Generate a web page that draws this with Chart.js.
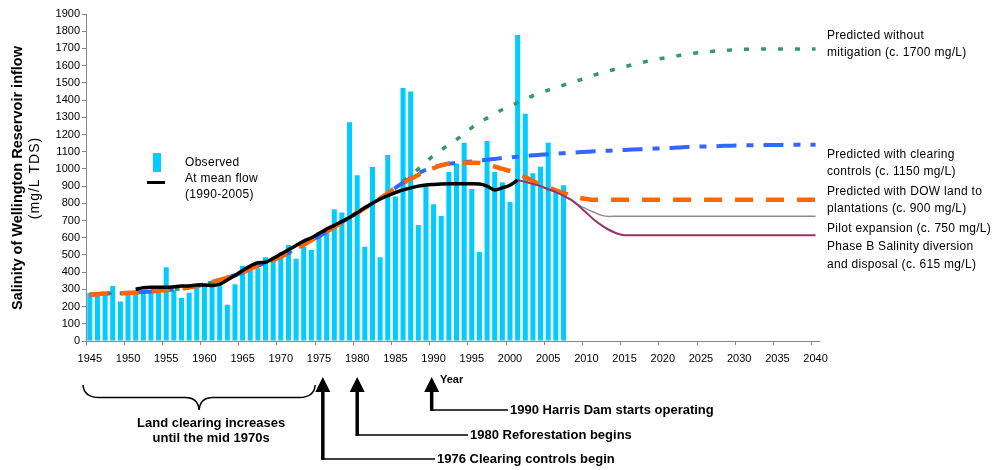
<!DOCTYPE html>
<html>
<head>
<meta charset="utf-8">
<script src="https://cdn.jsdelivr.net/npm/chart.js@4.4.1/dist/chart.umd.min.js"></script>
<style>
  html, body { margin: 0; padding: 0; background: #ffffff; }
  #wrap { width: 997px; height: 470px; }
</style>
</head>
<body>
<div id="wrap"><canvas id="salinity" width="997" height="470"></canvas></div>
<script>
// ---- categories -------------------------------------------------------
const FIRST_YEAR = 1945;
const LAST_YEAR = 2040;
const years = [];
for (let y = FIRST_YEAR; y <= LAST_YEAR; y++) years.push(String(y));

const xTickYears = [1945, 1950, 1955, 1960, 1965, 1970, 1975, 1980, 1985, 1990,
                    1995, 2000, 2005, 2010, 2015, 2020, 2025, 2030, 2035, 2040];

// ---- observed annual salinity (mg/L TDS), 1945-2007 ---------------------
const observedStart = 1945;
const observed = [
  280, 278, 282, 320, 230, 270, 275, 282, 295, 282,
  428, 295, 250, 280, 318, 325, 338, 335, 210, 330,
  436, 415, 422, 486, 470, 490, 558, 478, 548, 529,
  633, 626, 765, 746, 1271, 963, 548, 1011, 486, 1081,
  840, 1470, 1449, 674, 897, 794, 726, 982, 1032, 1152,
  883, 517, 1162, 982, 922, 808, 1778, 1321, 974, 1013,
  1152, 877, 905
];

// ---- salinity at mean flow (1990-2005), 1951-2001 ------------------------
const meanFlowStart = 1951;
const meanFlow = [
  300, 310, 312, 312, 312, 315, 320, 320, 325, 325,
  322, 330, 355, 380, 410, 435, 455, 458, 480, 505,
  530, 555, 580, 600, 625, 650, 672, 695, 718, 745,
  775, 800, 825, 845, 862, 878, 890, 900, 907, 910,
  912, 913, 913, 913, 913, 912, 900, 878, 890, 905,
  935
];

// ---- modelled trend shared by the three predictions, 1945-1984 -----------
const predictedStart = 1945;
const predictedHistory = [
  270, 272, 275, 278, 278, 280, 282, 285, 288, 292,
  296, 300, 305, 312, 320, 330, 342, 355, 368, 382,
  398, 420, 438, 455, 470, 490, 512, 537, 560, 585,
  608, 635, 662, 690, 718, 745, 772, 800, 828, 858
];

// ---- predictions, 1985-2040 ----------------------------------------------
const withoutMitigation = [
  895, 930, 960, 1000, 1040, 1078, 1110, 1140, 1170, 1205,
  1240, 1270, 1295, 1320, 1345, 1365, 1385, 1405, 1425, 1440,
  1458, 1472, 1487, 1502, 1515, 1530, 1545, 1558, 1570, 1582,
  1594, 1605, 1615, 1626, 1635, 1643, 1650, 1658, 1666, 1672,
  1677, 1681, 1685, 1688, 1691, 1694, 1695, 1696, 1697, 1697,
  1697, 1697, 1697, 1697, 1697, 1697
];
const clearingControls = [
  890, 920, 948, 975, 995, 1010, 1022, 1030, 1035, 1040,
  1043, 1048, 1053, 1058, 1063, 1067, 1071, 1075, 1079, 1082,
  1085, 1088, 1091, 1094, 1097, 1100, 1102, 1104, 1106, 1108,
  1110, 1112, 1114, 1116, 1118, 1120, 1122, 1125, 1127, 1129,
  1130, 1131, 1132, 1134, 1135, 1136, 1137, 1138, 1138, 1139,
  1139, 1140, 1140, 1140, 1140, 1140
];
const dowPlantations = [
  888, 915, 942, 965, 988, 1005, 1020, 1032, 1036, 1036,
  1036, 1035, 1025, 1013, 1000, 988, 972, 952, 930, 910,
  893, 876, 860, 845, 833, 825, 820, 820, 820, 820,
  820, 820, 820, 820, 820, 820, 820, 820, 820, 820,
  820, 820, 820, 820, 820, 820, 820, 820, 820, 820,
  820, 820, 820, 820, 820, 820
];
const futureStart = 1985;

// ---- salinity management options, 2001-2040 ------------------------------
const optionsStart = 2001;
const pilotExpansion = [
  935, 925, 912, 900, 882, 865, 843, 822, 790, 768,
  748, 730, 724, 725, 725, 725, 725, 725, 725, 725,
  725, 725, 725, 725, 725, 725, 725, 725, 725, 725,
  725, 725, 725, 725, 725, 725, 725, 725, 725, 725
];
const phaseB = [
  935, 925, 912, 900, 882, 865, 843, 820, 785, 745,
  705, 672, 645, 625, 615, 615, 615, 615, 615, 615,
  615, 615, 615, 615, 615, 615, 615, 615, 615, 615,
  615, 615, 615, 615, 615, 615, 615, 615, 615, 615
];

// ---- text ---------------------------------------------------------------
const yTitle = ['Salinity of Wellington Reservoir inflow', '(mg/L TDS)'];
const legendLabels = ['Observed', 'At mean flow', '(1990-2005)'];
const seriesNotes = [
  ['Predicted without', 'mitigation (c. 1700 mg/L)'],
  ['Predicted with clearing', 'controls (c. 1150 mg/L)'],
  ['Predicted with DOW land to', 'plantations (c. 900 mg/L)'],
  ['Pilot expansion (c. 750 mg/L)'],
  ['Phase B Salinity diversion', 'and disposal (c. 615 mg/L)']
];
const xTitle = 'Year';
const clearingNote = ['Land clearing increases', 'until the mid 1970s'];
const milestones = [
  { year: 1990, text: '1990 Harris Dam starts operating' },
  { year: 1980, text: '1980 Reforestation begins' },
  { year: 1976, text: '1976 Clearing controls begin' }
];

// ---- helpers ------------------------------------------------------------
function onAxis(startYear, values) {
  const out = new Array(years.length).fill(null);
  values.forEach((v, i) => { out[startYear - FIRST_YEAR + i] = v; });
  return out;
}

const FONT = '"Liberation Sans", Arial, Helvetica, sans-serif';
const BAR_COLOR = '#00CCFF';
const AXIS_COLOR = '#868686';

// Layout of the free-standing texts and markers
const noteRows = [[36, 53], [155, 172], [192, 209], [229], [247, 265]];
const noteLeft = 827;
const milestoneLayout = {
  1990: { shift: 0.25, lineY: 410, textX: 510 },
  1980: { shift: 0.5, lineY: 435, textX: 470 },
  1976: { shift: 0.0, lineY: 459, textX: 437 }
};

const annotate = {
  id: 'annotate',
  afterDraw(chart) {
    const { ctx, chartArea: area } = chart;
    const catW = (area.right - area.left) / years.length;
    const edgeX = yr => area.left + (yr - FIRST_YEAR) * catW;

    ctx.save();
    ctx.fillStyle = '#000';
    ctx.strokeStyle = '#000';
    ctx.textBaseline = 'middle';

    // vertical axis title
    ctx.save();
    ctx.translate(18, 178);
    ctx.rotate(-Math.PI / 2);
    ctx.textAlign = 'center';
    ctx.font = `bold 14.5px ${FONT}`;
    ctx.fillText(yTitle[0], 0, 0);
    ctx.font = `14px ${FONT}`;
    ctx.letterSpacing = '1px';
    ctx.fillText(yTitle[1], 0, 17);
    ctx.restore();

    // legend
    ctx.fillStyle = BAR_COLOR;
    ctx.fillRect(153, 153, 8, 19);
    ctx.beginPath();
    ctx.lineWidth = 3;
    ctx.moveTo(147, 182.5);
    ctx.lineTo(165, 182.5);
    ctx.stroke();
    ctx.fillStyle = '#000';
    ctx.textAlign = 'left';
    ctx.save();
    ctx.font = `12px ${FONT}`;
    ctx.letterSpacing = '0.3px';
    ctx.fillText(legendLabels[0], 185, 163);
    ctx.fillText(legendLabels[1], 185, 179);
    ctx.fillText(legendLabels[2], 185, 195);
    ctx.restore();

    // notes beside the line ends
    ctx.save();
    ctx.font = `12px ${FONT}`;
    ctx.letterSpacing = '0.3px';
    seriesNotes.forEach((lines, i) => {
      lines.forEach((t, j) => ctx.fillText(t, noteLeft, noteRows[i][j]));
    });
    ctx.restore();

    // horizontal axis title
    ctx.font = `bold 11px ${FONT}`;
    ctx.fillText(xTitle, 440, 380);

    // brace over the land clearing period
    const L = edgeX(1945) - 3, R = edgeX(1975), mid = (L + R) / 2;
    const top = 385, bot = 397.5, tip = 410;
    ctx.beginPath();
    ctx.lineWidth = 1.5;
    ctx.moveTo(L, top);
    ctx.quadraticCurveTo(L + 1, bot, L + 16, bot);
    ctx.lineTo(mid - 14, bot);
    ctx.quadraticCurveTo(mid - 1, bot, mid, tip);
    ctx.quadraticCurveTo(mid + 1, bot, mid + 14, bot);
    ctx.lineTo(R - 16, bot);
    ctx.quadraticCurveTo(R - 1, bot, R, top);
    ctx.stroke();

    ctx.font = `bold 13px ${FONT}`;
    ctx.textAlign = 'center';
    ctx.fillText(clearingNote[0], mid + 12, 423);
    ctx.fillText(clearingNote[1], mid + 12, 438);

    // milestone arrows
    ctx.textAlign = 'left';
    milestones.forEach(m => {
      const lay = milestoneLayout[m.year];
      const ax = edgeX(m.year + lay.shift);
      ctx.beginPath();
      ctx.moveTo(ax, 377);
      ctx.lineTo(ax + 7.5, 392);
      ctx.lineTo(ax - 7.5, 392);
      ctx.closePath();
      ctx.fill();
      ctx.beginPath();
      ctx.lineWidth = 3.5;
      ctx.moveTo(ax, 391);
      ctx.lineTo(ax, lay.lineY + 0.75);
      ctx.stroke();
      ctx.beginPath();
      ctx.lineWidth = 1.5;
      ctx.moveTo(ax - 1.5, lay.lineY);
      ctx.lineTo(lay.textX - 2, lay.lineY);
      ctx.stroke();
      ctx.fillText(m.text, lay.textX, lay.lineY);
    });

    ctx.restore();
  }
};

const lineBase = {
  type: 'line',
  pointRadius: 0,
  pointHoverRadius: 0,
  fill: false,
  spanGaps: false,
  cubicInterpolationMode: 'monotone'
};

new Chart(document.getElementById('salinity'), {
  type: 'bar',
  data: {
    labels: years,
    datasets: [
      {
        ...lineBase,
        label: 'At mean flow (1990-2005)',
        data: onAxis(meanFlowStart, meanFlow),
        borderColor: '#000000',
        borderWidth: 3.5,
        order: 1
      },
      {
        ...lineBase,
        label: 'Phase B Salinity diversion and disposal',
        data: onAxis(optionsStart, phaseB),
        borderColor: '#993366',
        borderWidth: 2,
        order: 2
      },
      {
        ...lineBase,
        label: 'Pilot expansion',
        data: onAxis(optionsStart, pilotExpansion),
        borderColor: '#8C8C8C',
        borderWidth: 1.5,
        order: 3
      },
      {
        ...lineBase,
        label: 'Predicted with DOW land to plantations',
        data: onAxis(predictedStart, predictedHistory.concat(dowPlantations)),
        borderColor: '#FF6600',
        borderWidth: 4.5,
        borderDash: [18, 13],
        order: 4
      },
      {
        ...lineBase,
        label: 'Predicted with clearing controls',
        data: onAxis(predictedStart, predictedHistory.concat(clearingControls)),
        borderColor: '#3366FF',
        borderWidth: 4,
        borderDash: [20, 10, 7, 10],
        order: 5
      },
      {
        ...lineBase,
        label: 'Predicted without mitigation',
        data: onAxis(predictedStart, predictedHistory.concat(withoutMitigation)),
        borderColor: '#339966',
        borderWidth: 3.5,
        borderDash: [5, 12],
        order: 6
      },
      {
        type: 'bar',
        label: 'Observed',
        data: onAxis(observedStart, observed),
        backgroundColor: BAR_COLOR,
        borderWidth: 0,
        barPercentage: 0.66,
        categoryPercentage: 1.0,
        order: 10
      }
    ]
  },
  options: {
    responsive: false,
    animation: false,
    devicePixelRatio: 1,
    layout: { padding: { top: 14, right: 177.6, bottom: 0, left: 0 } },
    plugins: {
      legend: { display: false },
      tooltip: { enabled: false }
    },
    scales: {
      x: {
        type: 'category',
        offset: true,
        border: { color: AXIS_COLOR, width: 1 },
        grid: {
          offset: true,
          drawOnChartArea: false,
          drawTicks: true,
          tickLength: 4,
          lineWidth: 1,
          color: c => (c.tick && c.tick.label) ? AXIS_COLOR : 'rgba(0,0,0,0)'
        },
        ticks: {
          autoSkip: false,
          maxRotation: 0,
          minRotation: 0,
          padding: 7,
          color: '#000',
          font: { family: FONT, size: 11 },
          callback: function (value) {
            const label = this.getLabelForValue(value);
            return xTickYears.includes(Number(label)) ? label : '';
          }
        },
        afterFit: s => { s.height = 129; }
      },
      y: {
        min: 0,
        max: 1900,
        border: { color: AXIS_COLOR, width: 1 },
        grid: {
          drawOnChartArea: false,
          drawTicks: true,
          tickLength: 4,
          color: AXIS_COLOR
        },
        ticks: {
          stepSize: 100,
          autoSkip: false,
          maxTicksLimit: 30,
          padding: 2,
          color: '#000',
          font: { family: FONT, size: 11 },
          callback: v => String(v)
        },
        afterFit: s => { s.width = 86; }
      }
    }
  },
  plugins: [annotate]
});
</script>
</body>
</html>
